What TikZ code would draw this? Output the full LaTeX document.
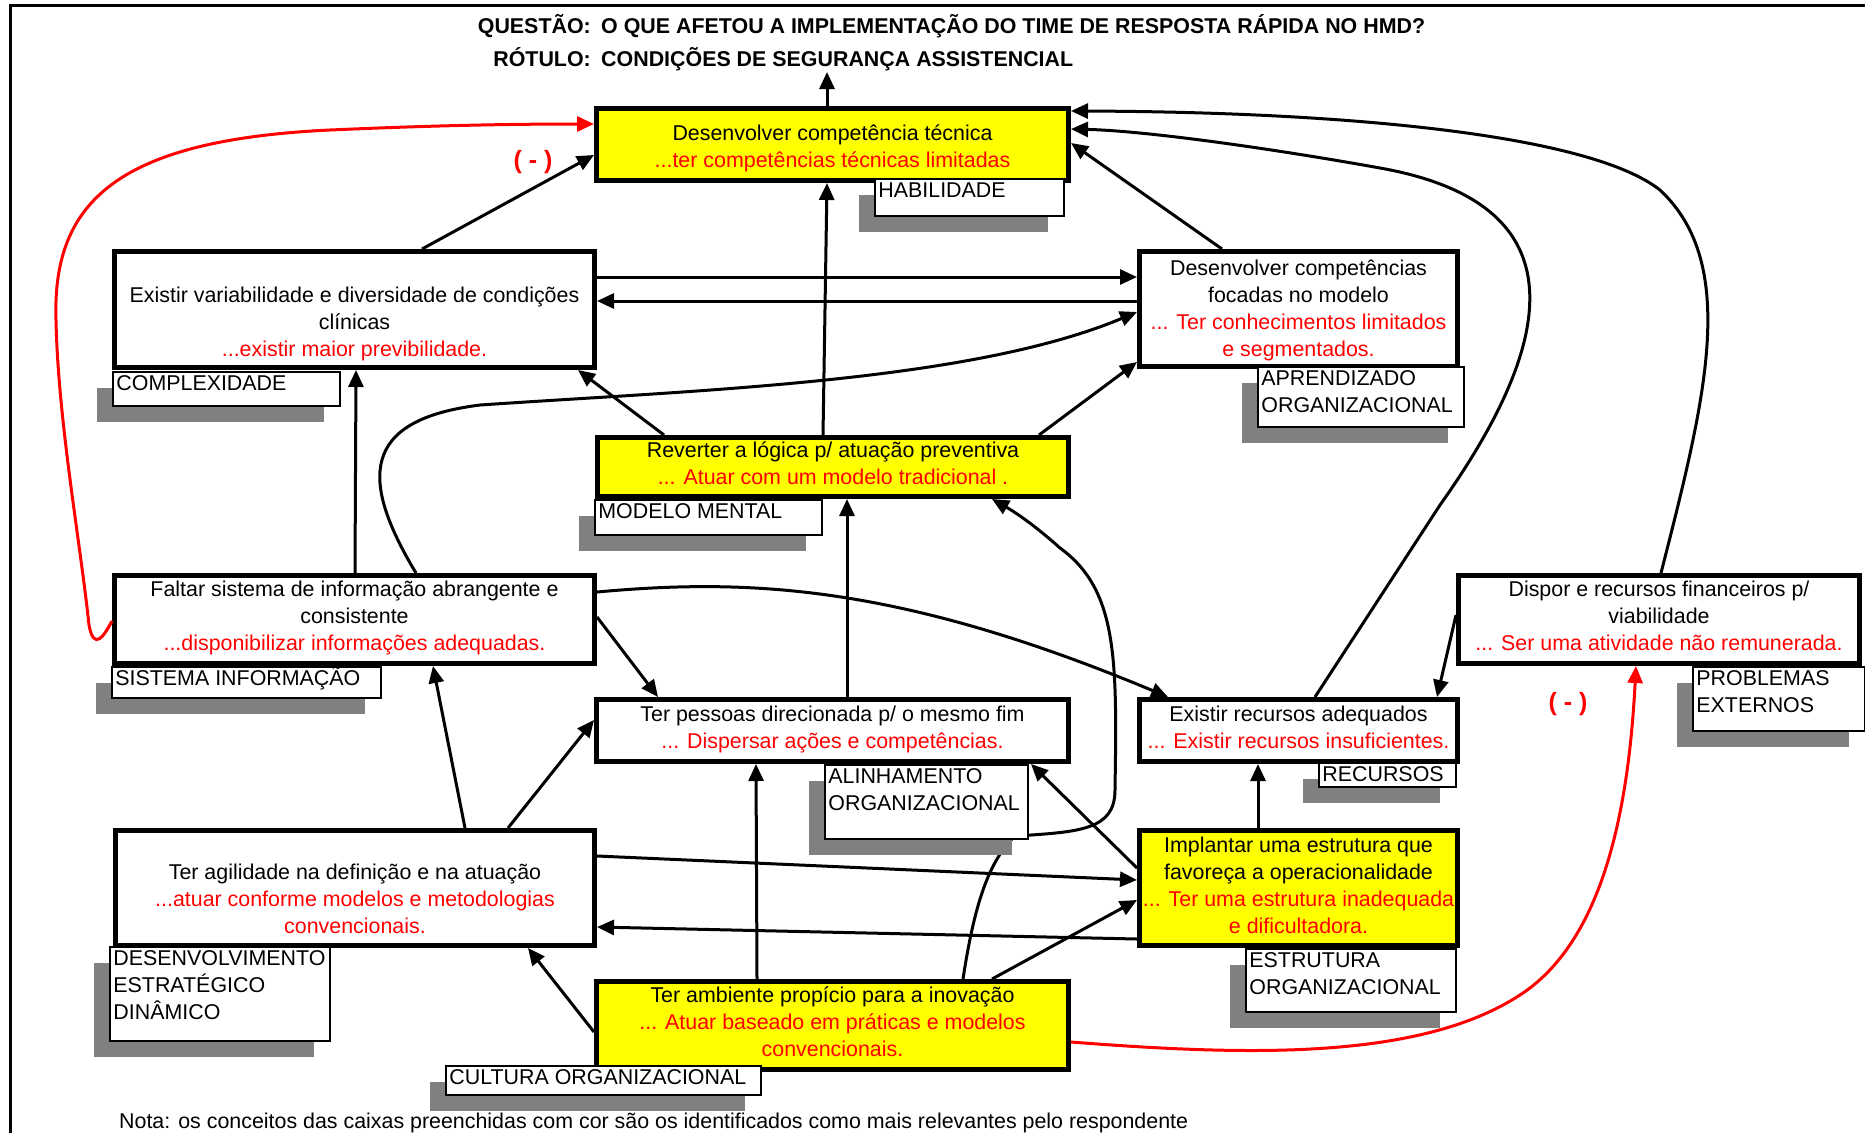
\documentclass[tikz,border=0pt]{standalone}
\usepackage{fontspec}
\setmainfont{Liberation Sans}
\usetikzlibrary{arrows.meta,shadows,calc}
\definecolor{shgray}{HTML}{808080}
\definecolor{tyellow}{HTML}{FFFF00}
\definecolor{tred}{HTML}{FF0000}
\newcommand{\rt}[1]{\textcolor{tred}{#1}}
\newcommand{\bt}[2][2.5pt]{\raisebox{0pt}[\height][\dimexpr\depth+#1\relax]{\begin{tabular}{@{}c@{}}#2\end{tabular}}}
\newcommand{\lbltxt}[3]{\parbox[c][#2][t]{#1}{\raggedright\leftskip=3.5pt\strut #3}}
\begin{document}
\begin{tikzpicture}[x=1pt,y=-1pt,
  font=\fontsize{21.4pt}{27pt}\selectfont,
  cbox/.style={draw=black, line width=5pt, inner sep=0pt},
  ybox/.style={cbox, fill=tyellow},
  wbox/.style={cbox, fill=white},
  lbl/.style={draw=black, fill=white, line width=1.8pt, inner sep=0pt, anchor=north west,
    general shadow={fill=shgray, shadow xshift=-16pt, shadow yshift=-16pt}},
  arr/.style={line width=3pt, -{Triangle[length=17pt,width=15pt]}},
  txt/.style={inner sep=0pt},
  ttl/.style={txt, font=\fontsize{21.4pt}{27pt}\selectfont\bfseries},
  neg/.style={text=tred, inner sep=0pt, font=\fontsize{25pt}{30pt}\selectfont\bfseries}
]
\path[fill=white, use as bounding box] (0,0) rectangle (1865,1133);
\draw[line width=3pt] (10,1133) -- (10,5) -- (1865,5);

% title
\node[ttl, anchor=base east] (q1) at (591,33) {QUESTÃO:};
\node[ttl, anchor=base west] (q2) at (601,33) {O QUE AFETOU A IMPLEMENTAÇÃO DO TIME DE RESPOSTA RÁPIDA NO HMD?};
\node[ttl, anchor=base east] (r1) at (591,66) {RÓTULO:};
\node[ttl, anchor=base west] (r2) at (601,66) {CONDIÇÕES DE SEGURANÇA ASSISTENCIAL};
\coordinate (top) at (827,72);

% boxes
\node[ybox, minimum width=472pt, minimum height=72pt] (hab) at (832.5,144.5)
  {\bt[-9pt]{Desenvolver competência técnica\\\rt{...ter competências técnicas limitadas}}};
\node[wbox, minimum width=480pt, minimum height=116pt] (comp) at (354.5,309.5)
  {\bt[-2.5pt]{\\Existir variabilidade e diversidade de condições\\clínicas\\\rt{...existir maior previbilidade.}}};
\node[wbox, minimum width=318pt, minimum height=115pt] (apr) at (1298.5,309)
  {\bt[-3pt]{Desenvolver competências\\focadas no modelo\\\rt{... Ter conhecimentos limitados}\\\rt{e segmentados.}}};
\node[ybox, minimum width=471pt, minimum height=59pt] (mm) at (833,467)
  {\bt{Reverter a lógica p/ atuação preventiva\\\rt{... Atuar com um modelo tradicional .}}};
\node[wbox, minimum width=480pt, minimum height=88pt] (si) at (354.5,619.5)
  {\bt{Faltar sistema de informação abrangente e\\consistente\\\rt{...disponibilizar informações adequadas.}}};
\node[wbox, minimum width=472pt, minimum height=62pt] (alin) at (832.5,730.5)
  {\bt{Ter pessoas direcionada p/ o mesmo fim\\\rt{... Dispersar ações e competências.}}};
\node[wbox, minimum width=318pt, minimum height=62pt] (rec) at (1298.5,730.5)
  {\bt{Existir recursos adequados\\\rt{... Existir recursos insuficientes.}}};
\node[wbox, minimum width=401pt, minimum height=88pt] (pe) at (1659,619.5)
  {\bt{Dispor e recursos financeiros p/\\viabilidade\\\rt{... Ser uma atividade não remunerada.}}};
\node[wbox, minimum width=479pt, minimum height=115pt] (des) at (355,888)
  {\bt[1pt]{\\Ter agilidade na definição e na atuação\\\rt{...atuar conforme modelos e metodologias}\\\rt{convencionais.}}};
\node[ybox, minimum width=472pt, minimum height=88pt] (cult) at (832.5,1025.5)
  {\bt{Ter ambiente propício para a inovação\\\rt{... Atuar baseado em práticas e modelos}\\\rt{convencionais.}}};
\node[ybox, minimum width=318pt, minimum height=115pt] (est) at (1298.5,888)
  {\bt[1pt]{Implantar uma estrutura que\\favoreça a operacionalidade\\\rt{... Ter uma estrutura inadequada}\\\rt{e dificultadora.}}};

% connectors
\draw[arr] (hab.north -| 827,0) -- (top);
\draw[arr, draw=tred] (si.west |- 0,621) .. controls (104,636) and (94,652) .. (89,625)
  .. controls (80,540) and (58,420) .. (56,320)
  .. controls (52,200) and (120,140) .. (330,130)
  .. controls (420,126) and (500,124) .. (hab.west |- 0,124);
\draw[arr, draw=tred] (cult.east |- 0,1042) .. controls (1250,1056) and (1420,1060) .. (1520,995)
  .. controls (1600,943) and (1628,820) .. (pe.south -| 1636,0);
\draw[arr] (comp.north -| 422,0) -- (hab.west |- 0,155);
\draw[arr] (mm.north -| 823,0) -- (hab.south -| 827,0);
\draw[arr] (comp.east |- 0,277) -- (apr.west |- 0,277);
\draw[arr] (apr.west |- 0,301) -- (comp.east |- 0,301);
\draw[arr] (apr.north -| 1222,0) -- (hab.east |- 0,143);
\draw[arr] (rec.north -| 1315,0) -- (1440,505) .. controls (1575,315) and (1560,200) .. (1380,168)
  .. controls (1280,150) and (1150,131) .. (hab.east |- 0,129);
\draw[arr] (pe.north -| 1661,0) .. controls (1705,400) and (1740,265) .. (1660,190)
  .. controls (1590,135) and (1350,112) .. (hab.east |- 0,111);
\draw[arr] (pe.west |- 0,615) -- (rec.north -| 1437,0);
\draw[arr] (est.north -| 1258,0) -- (rec.south -| 1258,0);
\draw[arr] (est.west |- 0,868) -- (alin.south -| 1031,0);
\draw[arr] (des.east |- 0,856) -- (est.west |- 0,880);
\draw[arr] (est.west |- 0,939) -- (des.east |- 0,927);
\draw[arr] (cult.north -| 992,0) -- (est.west |- 0,900);
\draw[arr] (cult.north -| 963,0) .. controls (975,900) and (990,860) .. (1015,836)
  .. controls (1080,832) and (1115,830) .. (1115,790)
  .. controls (1117,660) and (1118,590) .. (1060,548)
  .. controls (1040,530) and (1020,515) .. (mm.south -| 992,0);
\draw[arr] (cult.north -| 757,0) -- (alin.south -| 756,0);
\draw[arr] (cult.west |- 0,1032) -- (des.south -| 528,0);
\draw[arr] (des.north -| 465,0) -- (si.south -| 433,0);
\draw[arr] (des.north -| 508,0) -- (alin.west |- 0,720);
\draw[arr] (si.north -| 355,0) -- (comp.south -| 356,0);
\draw[arr] (si.north -| 416,0) .. controls (360,480) and (360,420) .. (480,405)
  .. controls (700,390) and (970,382) .. (apr.west |- 0,312);
\draw[arr] (mm.north -| 664,0) -- (comp.south -| 578,0);
\draw[arr] (mm.north -| 1039,0) -- (apr.west |- 0,362);
\draw[arr] (alin.north -| 847,0) -- (mm.south -| 847,0);
\draw[arr] (si.east |- 0,617) -- (alin.north -| 658,0);
\draw[arr] (si.east |- 0,592) .. controls (750,578) and (900,585) .. (rec.north -| 1168,0);

% negative signs
\node[neg] (neg1) at (533,162) {( - )};
\node[neg] (neg2) at (1568,704) {( - )};

% category labels
\node[lbl] (lhab) at (874,178) {\lbltxt{189.2pt}{37.2pt}{HABILIDADE}};
\node[lbl] (lcomp) at (112,371) {\lbltxt{227.2pt}{34.2pt}{COMPLEXIDADE}};
\node[lbl] (lapr) at (1257,366) {\lbltxt{206.2pt}{60.2pt}{APRENDIZADO\\ORGANIZACIONAL}};
\node[lbl] (lmm) at (594,499) {\lbltxt{227.2pt}{35.2pt}{MODELO MENTAL}};
\node[lbl] (lsi) at (111,666) {\lbltxt{269.2pt}{31.2pt}{SISTEMA INFORMAÇÃO}};
\node[lbl] (lalin) at (824,764) {\lbltxt{203.2pt}{74.2pt}{ALINHAMENTO\\ORGANIZACIONAL}};
\node[lbl] (lrec) at (1318,762) {\lbltxt{137.2pt}{24.2pt}{RECURSOS}};
\node[lbl] (lpe) at (1692,666) {\lbltxt{172.2pt}{64.2pt}{PROBLEMAS\\EXTERNOS}};
\node[lbl] (ldes) at (109,946) {\lbltxt{220.2pt}{94.2pt}{DESENVOLVIMENTO\\ESTRATÉGICO\\DINÂMICO}};
\node[lbl] (lcult) at (445,1065) {\lbltxt{315.2pt}{29.2pt}{CULTURA ORGANIZACIONAL}};
\node[lbl] (lest) at (1245,948) {\lbltxt{210.2pt}{63.2pt}{ESTRUTURA\\ORGANIZACIONAL}};

\node[txt, anchor=base west] (nota) at (119,1128) {Nota: os conceitos das caixas preenchidas com cor são os identificados como mais relevantes pelo respondente};
\end{tikzpicture}
\end{document}
